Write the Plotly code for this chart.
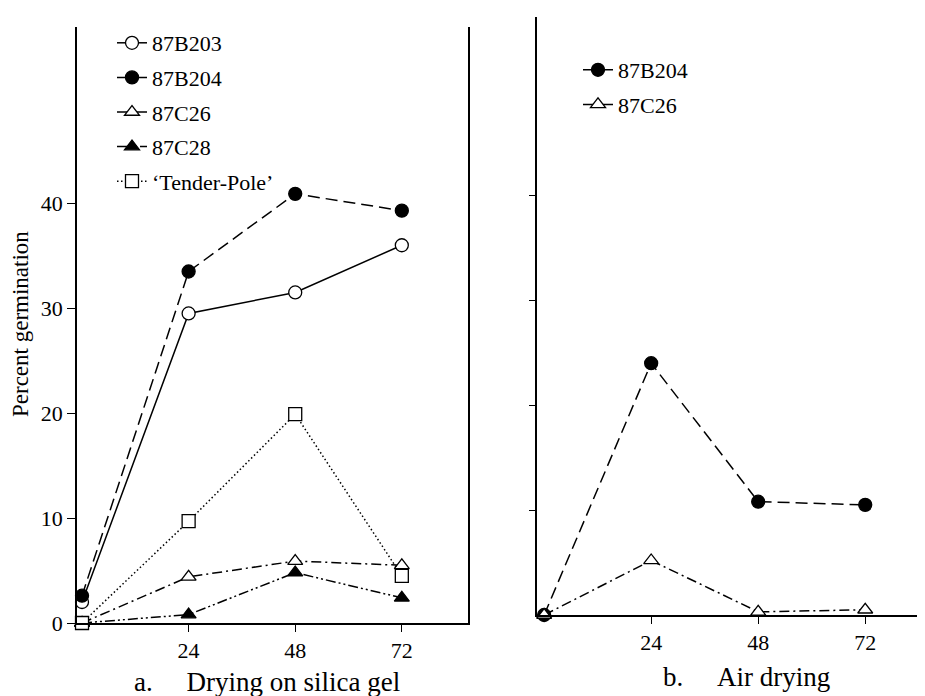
import plotly.graph_objects as go

# ---------------- data ----------------
hours = [0, 24, 48, 72]

# Panel a: drying on silica gel
silica_87B203 = [2.0, 29.5, 31.5, 36.0]
silica_87B204 = [2.6, 33.5, 40.9, 39.3]
silica_87C26 = [0.0, 4.4, 5.9, 5.5]
silica_87C28 = [0.0, 0.8, 4.8, 2.4]
silica_tender = [0.0, 9.7, 19.9, 4.5]

# Panel b: air drying
air_87B204 = [0.0, 24.0, 10.8, 10.5]
air_87C26 = [0.0, 5.2, 0.3, 0.5]

x_ticks = [24, 48, 72]
y_ticks = [0, 10, 20, 30, 40]

FONT = "Liberation Serif, Times New Roman, serif"
LW = 1.5
MS = 13

fig = go.Figure()

def add(x, y, name, symbol, filled, dash, xa, ya, legend, group):
    fig.add_trace(go.Scatter(
        x=x, y=y, name=name, mode="lines+markers",
        xaxis=xa, yaxis=ya, legend=legend, legendgroup=group,
        cliponaxis=False,
        line=dict(color="black", width=LW, dash=dash),
        marker=dict(symbol=symbol, size=MS,
                    color="black" if filled else "white",
                    line=dict(color="black", width=1.3)),
    ))

DASH = "12px,6px"
DASHDOT = "10px,4px,2px,4px"
DASHDOTDOT = "10px,3px,2px,3px,2px,3px"
DOT = "1.5px,2.5px"

add(hours, silica_87B203, "87B203", "circle", False, "solid", "x", "y", "legend", "a1")
add(hours, silica_87B204, "87B204", "circle", True, DASH, "x", "y", "legend", "a2")
add(hours, silica_87C26, "87C26", "triangle-up", False, DASHDOT, "x", "y", "legend", "a3")
add(hours, silica_87C28, "87C28", "triangle-up", True, DASHDOTDOT, "x", "y", "legend", "a4")
add(hours, silica_tender, "\u2018Tender-Pole\u2019", "square", False, DOT, "x", "y", "legend", "a5")

add(hours, air_87B204, "87B204", "circle", True, DASH, "x2", "y2", "legend2", "b1")
add(hours, air_87C26, "87C26", "triangle-up", False, DASHDOT, "x2", "y2", "legend2", "b2")

W, H = 925, 696
OFF = 8  # page body margin shifts the figure by this many pixels

def px(x):
    return (x - OFF) / W

def py(y):
    return 1 - (y - OFF) / H

axis_common = dict(showline=True, linecolor="black", linewidth=1.5,
                   ticks="outside", tickwidth=1.3, tickcolor="black",
                   showgrid=False, zeroline=False, automargin=False,
                   tickfont=dict(family=FONT, size=22, color="black"))

fig.update_layout(
    template="none",
    width=W, height=H,
    margin=dict(l=0, r=0, t=0, b=0, pad=0),
    paper_bgcolor="white", plot_bgcolor="white",
    font=dict(family=FONT, color="black"),
    xaxis=dict(domain=[px(77), px(468)], range=[-1.13, 86.9], anchor="y",
               tickvals=x_ticks, ticklen=7, **axis_common),
    yaxis=dict(domain=[py(623), py(27)], range=[0, 56.8], anchor="x",
               tickvals=y_ticks, ticklen=8, mirror=True, **axis_common),
    xaxis2=dict(domain=[px(537), 1.0], range=[-1.6, 87.2], anchor="y2",
                tickvals=x_ticks, ticklen=7, **axis_common),
    yaxis2=dict(domain=[py(615), py(17)], range=[0, 57], anchor="x2",
                tickvals=[10, 20, 30, 40], showticklabels=False, ticklen=6,
                **axis_common),
    showlegend=True,
    legend=dict(x=px(112), y=py(22), xanchor="left", yanchor="top",
                bgcolor="rgba(0,0,0,0)", borderwidth=0,
                font=dict(family=FONT, size=22, color="black"),
                traceorder="grouped", tracegroupgap=3, itemwidth=30),
    legend2=dict(x=px(578), y=py(49), xanchor="left", yanchor="top",
                 bgcolor="rgba(0,0,0,0)", borderwidth=0,
                 font=dict(family=FONT, size=22, color="black"),
                 traceorder="grouped", tracegroupgap=3, itemwidth=30),
    annotations=[
        dict(text="Percent germination", x=px(20), y=py(324), xref="paper", yref="paper",
             xanchor="center", yanchor="middle",
             textangle=-90, showarrow=False, font=dict(family=FONT, size=23)),
        dict(text="a.&nbsp;&nbsp;&nbsp;&nbsp;&nbsp;Drying on silica gel", x=px(267), y=py(682),
             xref="paper", yref="paper", xanchor="center", yanchor="middle",
             showarrow=False, font=dict(family=FONT, size=27)),
        dict(text="b.&nbsp;&nbsp;&nbsp;&nbsp;&nbsp;Air drying", x=px(746), y=py(677),
             xref="paper", yref="paper", xanchor="center", yanchor="middle",
             showarrow=False, font=dict(family=FONT, size=27)),
    ],
)

fig.write_html("out.html")
